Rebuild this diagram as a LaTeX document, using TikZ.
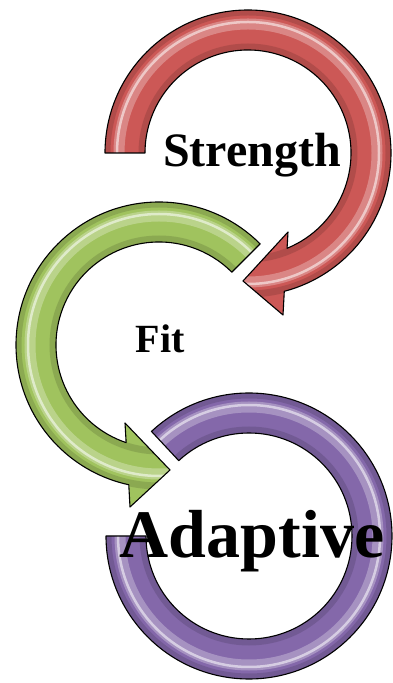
\documentclass[tikz,border=0pt]{standalone}
\usepackage{fontspec}
\setmainfont{Liberation Serif}
\usepackage{tikz}
\usetikzlibrary{positioning,calc}
\definecolor{ringred}{RGB}{204,88,86}
\definecolor{ringgreen}{RGB}{160,195,94}
\definecolor{ringpurple}{RGB}{132,104,170}

\begin{document}
\begin{tikzpicture}[
  x=1pt, y=1pt,
  ring/.style={draw=black, line width=1.1pt, line join=round},
  gloss/.style={draw=white, opacity=0.28, line width=11pt},
  glint/.style={draw=white, opacity=0.55, line width=2.5pt},
  shade/.style={draw=black, opacity=0.13, line width=7pt},
  word/.style={inner sep=0pt, anchor=base, font=\bfseries},
]
  \useasboundingbox (0,0) rectangle (393,683);
  \coordinate (redc) at (248,530);
  \coordinate (greenc) at (159,338);
  \coordinate (purplec) at (249,147);

  % Red ring: clockwise from the left, head at the bottom
  \path[save path=\redpath, shift={(redc)}]
    (180:143) arc[start angle=180, end angle=-75.3, radius=143]
    -- (35,-162) -- (-5,-128) -- (40,-79)
    -- (-67.7:103) arc[start angle=-67.7, end angle=180, radius=103] -- cycle;
  \fill[ringred, use path=\redpath];
  \begin{scope}
    \clip[use path=\redpath];
    \draw[shade] (redc) circle[radius=106];
    \draw[shade] (redc) circle[radius=141];
    \draw[gloss] (redc) circle[radius=129];
    \draw[glint] (redc) circle[radius=131];
  \end{scope}
  \draw[ring, use path=\redpath];

  % Green ring: counter-clockwise from upper right, head at the bottom
  \path[save path=\greenpath, shift={(greenc)}]
    (45:143) arc[start angle=45, end angle=257.8, radius=143]
    -- (-29,-162) -- (11,-125) -- (-34,-78)
    -- (251.4:103) arc[start angle=251.4, end angle=45, radius=103] -- cycle;
  \fill[ringgreen, use path=\greenpath];
  \begin{scope}
    \clip[use path=\greenpath];
    \draw[shade] (greenc) circle[radius=106];
    \draw[shade] (greenc) circle[radius=141];
    \draw[gloss] (greenc) circle[radius=129];
    \draw[glint] (greenc) circle[radius=131];
  \end{scope}
  \draw[ring, use path=\greenpath];

  % Purple ring: open band
  \path[save path=\purplepath, shift={(purplec)}]
    (133:143) arc[start angle=133, end angle=-180, radius=143]
    -- (180:103) arc[start angle=180, end angle=493, radius=103] -- cycle;
  \fill[ringpurple, use path=\purplepath];
  \begin{scope}
    \clip[use path=\purplepath];
    \draw[shade] (purplec) circle[radius=106];
    \draw[shade] (purplec) circle[radius=141];
    \draw[gloss] (purplec) circle[radius=129];
    \draw[glint] (purplec) circle[radius=131];
  \end{scope}
  \draw[ring, use path=\purplepath];

  % Labels
  \node[word, font=\bfseries\fontsize{48}{48}\selectfont] (strength) at (252,516) {Strength};
  \node[word, font=\bfseries\fontsize{40}{40}\selectfont] (fit) at (160,330) {Fit};
  \node[word, font=\bfseries\fontsize{68}{68}\selectfont] (adaptive) at (252,125) {Adaptive};
\end{tikzpicture}
\end{document}
